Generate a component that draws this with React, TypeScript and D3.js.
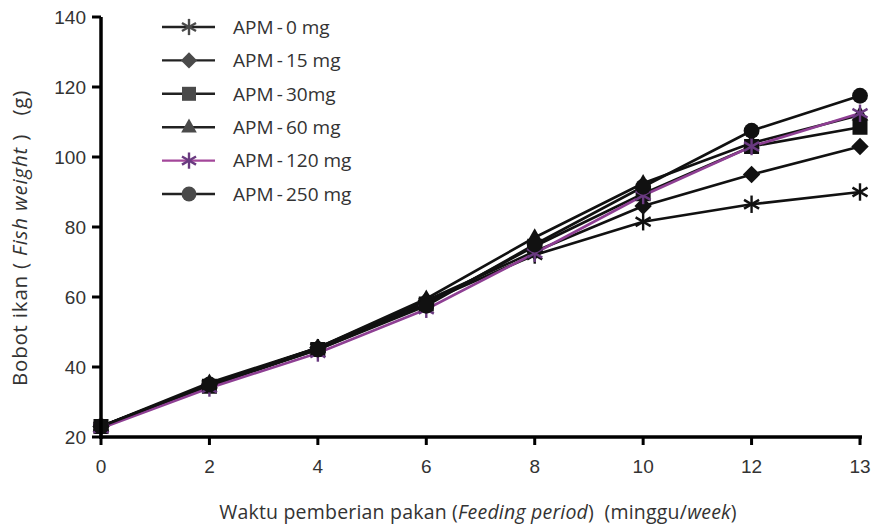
import React from "react";
import * as d3 from "d3";

const weeks = ["0", "2", "4", "6", "8", "10", "12", "13"];
const yTicks = [20, 40, 60, 80, 100, 120, 140];
const seriesNames = ["APM-0 mg", "APM-15 mg", "APM-30mg", "APM-60 mg", "APM-120 mg", "APM-250 mg"];
const apm0 = [23, 35, 45.5, 58.5, 72, 81.5, 86.5, 90];
const apm15 = [23, 35, 45.5, 59, 73, 86, 95, 103];
const apm30 = [23, 34.5, 45, 58, 74.5, 89.5, 103, 108.5];
const apm60 = [23, 35.5, 45.5, 59.5, 77, 92.5, 104, 112];
const apm120 = [22.5, 34, 44, 56.5, 72.5, 89, 103, 112.5];
const apm250 = [23, 35, 45, 57.5, 75, 91.5, 107.5, 117.5];
const seriesValues = [apm0, apm15, apm30, apm60, apm120, apm250];
const markerTypes = ["star", "diamond", "square", "triangle", "star", "circle"];

const W = 878, H = 527;
const x0 = 101, x1 = 860, yTop = 17, yBot = 437;

function Marker({ type, cx, cy, fill, s }: { type: string; cx: number; cy: number; fill: string; s: number }) {
  if (type === "circle") return <circle cx={cx} cy={cy} r={s * 0.53} fill={fill} />;
  if (type === "square") return <rect x={cx - s / 2} y={cy - s / 2} width={s} height={s} fill={fill} />;
  if (type === "diamond") {
    const r = s * 0.58;
    return <path d={`M${cx},${cy - r}L${cx + r},${cy}L${cx},${cy + r}L${cx - r},${cy}Z`} fill={fill} />;
  }
  if (type === "triangle") {
    const r = s * 0.62;
    return <path d={`M${cx},${cy - r}L${cx + r * 0.9},${cy + r * 0.6}L${cx - r * 0.9},${cy + r * 0.6}Z`} fill={fill} />;
  }
  const r = s * 0.58;
  const a = Math.PI / 6;
  return (
    <g stroke={fill} strokeWidth={2.4}>
      <line x1={cx} y1={cy - r} x2={cx} y2={cy + r} />
      <line x1={cx - r * Math.cos(a)} y1={cy - r * Math.sin(a)} x2={cx + r * Math.cos(a)} y2={cy + r * Math.sin(a)} />
      <line x1={cx - r * Math.cos(a)} y1={cy + r * Math.sin(a)} x2={cx + r * Math.cos(a)} y2={cy - r * Math.sin(a)} />
    </g>
  );
}

export default function App() {
  const x = d3.scalePoint<string>().domain(weeks).range([x0, x1]);
  const y = d3.scaleLinear().domain([20, 140]).range([yBot, yTop]);
  const line = d3
    .line<number>()
    .x((_, i) => x(weeks[i]) as number)
    .y((d) => y(d));
  const lineColor = (i: number) => (i === 4 ? "#8e3f93" : "#111");
  const markColor = (i: number) => (i === 4 ? "#6a3a80" : "#111");
  const legendY = d3.scaleLinear().domain([0, 5]).range([27, 194]);
  const tickFont = "'Liberation Sans', Arial, sans-serif";
  const textFont = "'Open Sans', 'Noto Sans', sans-serif";

  return (
    <svg width={W} height={H} style={{ position: "absolute", left: 0, top: 0, background: "#fff" }}>
      {seriesValues.map((vals, i) => (
        <path key={"l" + i} d={line(vals) || ""} fill="none" stroke={lineColor(i)} strokeWidth={2.6} />
      ))}
      {seriesValues.map((vals, i) =>
        vals.map((v, j) => (
          <Marker key={"m" + i + "-" + j} type={markerTypes[i]} cx={x(weeks[j]) as number} cy={y(v)} fill={markColor(i)} s={15} />
        ))
      )}
      <line x1={x0} y1={yTop} x2={x0} y2={yBot + 2} stroke="#000" strokeWidth={3.5} />
      <line x1={x0 - 2} y1={yBot} x2={x1 + 2} y2={yBot} stroke="#000" strokeWidth={3.5} />
      {yTicks.map((t) => (
        <g key={"yt" + t}>
          <line x1={x0 - 9} x2={x0} y1={y(t)} y2={y(t)} stroke="#000" strokeWidth={3} />
          <text x={x0 - 15} y={y(t)} dy="0.36em" textAnchor="end" fontSize={19} fontFamily={tickFont} fill="#333">
            {t}
          </text>
        </g>
      ))}
      {weeks.map((w) => (
        <g key={"xt" + w}>
          <line x1={x(w) as number} x2={x(w) as number} y1={yBot} y2={yBot + 8} stroke="#000" strokeWidth={3} />
          <text x={x(w) as number} y={473} textAnchor="middle" fontSize={19} fontFamily={tickFont} fill="#333">
            {w}
          </text>
        </g>
      ))}
      <text
        transform={`translate(27, 238) rotate(-90)`}
        textAnchor="middle"
        fontSize={20.5}
        letterSpacing={0.8}
        fontFamily={textFont}
        fill="#333"
      >
        Bobot ikan ( <tspan fontStyle="italic">Fish weight</tspan> ){"\u00a0\u00a0\u00a0"}(g)
      </text>
      <text x={478} y={519} textAnchor="middle" fontSize={19.5} letterSpacing={0.2} fontFamily={textFont} fill="#333">
        Waktu pemberian pakan (<tspan fontStyle="italic">Feeding period</tspan>){"\u00a0\u00a0"}(minggu/<tspan fontStyle="italic">week</tspan>)
      </text>
      {seriesNames.map((name, i) => {
        const ly = legendY(i);
        return (
          <g key={"lg" + i}>
            <line x1={162} x2={215} y1={ly} y2={ly} stroke={i === 4 ? "#a3479a" : "#222"} strokeWidth={2.4} />
            <Marker type={markerTypes[i]} cx={189} cy={ly} fill={i === 4 ? "#6a3a80" : "#4a4a4a"} s={14} />
            <text x={233} y={ly} dy="0.36em" fontSize={19} fontFamily={textFont} fill="#333">
              {name.replace("-", "\u2009-\u2009")}
            </text>
          </g>
        );
      })}
    </svg>
  );
}
